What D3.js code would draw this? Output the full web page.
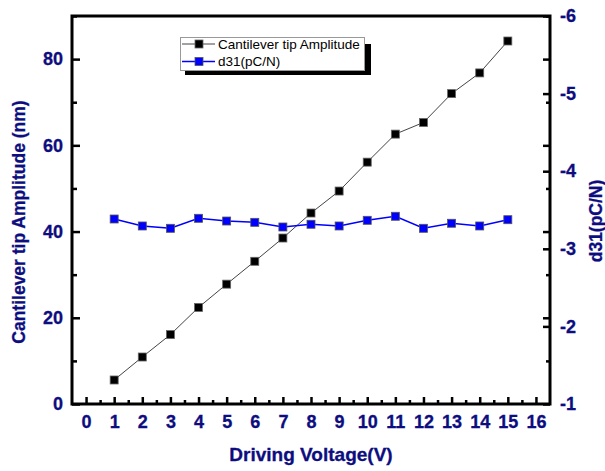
<!DOCTYPE html>
<html><head><meta charset="utf-8">
<script src="https://cdn.jsdelivr.net/npm/d3@7"></script>
<style>
body{margin:0;background:#fff;}
svg{display:block;font-family:"Liberation Sans",Arial,sans-serif;}
</style></head>
<body><svg id="c" width="605" height="471"></svg>
<script>
const voltage = [1,2,3,4,5,6,7,8,9,10,11,12,13,14,15];
const amplitude = [5.57,10.9,16.1,22.4,27.8,33.1,38.5,44.3,49.4,56.1,62.6,65.3,72.0,76.8,84.2];
const d31 = [-3.384,-3.294,-3.264,-3.393,-3.358,-3.341,-3.281,-3.316,-3.294,-3.367,-3.419,-3.264,-3.329,-3.294,-3.375];
const xTicks = [0,1,2,3,4,5,6,7,8,9,10,11,12,13,14,15,16];
const yLeftTicks = [0,20,40,60,80];
const yRightTicks = [-1,-2,-3,-4,-5,-6];
const seriesNames = ["Cantilever tip Amplitude","d31(pC/N)"];

const navy = "#0d0d80";
const svg = d3.select("#c");
const L=72,R=550,T=16,B=404;
const x = d3.scaleLinear().domain([-0.5,16.5]).range([L,R]);
const yL = d3.scaleLinear().domain([0,90]).range([B,T]);
const yR = d3.scaleLinear().domain([-1,-6]).range([B,T]);

function styleAxis(g){
  g.select(".domain").remove();
  g.selectAll(".tick line").attr("stroke","#000").attr("stroke-width",2.5);
  g.selectAll("text").attr("fill",navy).attr("font-size",18).attr("font-weight","bold")
    .attr("stroke",navy).attr("stroke-width",0.3);
}
// bottom axis
svg.append("g").attr("transform",`translate(0,${B})`)
  .call(d3.axisBottom(x).tickValues(xTicks).tickSize(-7).tickPadding(11).tickFormat(d3.format("d")))
  .call(styleAxis);
svg.append("g").attr("transform",`translate(0,${B})`)
  .call(d3.axisBottom(x).tickValues(xTicks.slice(0,-1).map(d=>d+0.5)).tickSize(-4).tickFormat(""))
  .call(styleAxis);
// left axis
svg.append("g").attr("transform",`translate(${L},0)`)
  .call(d3.axisLeft(yL).tickValues(yLeftTicks).tickSize(-8).tickPadding(9))
  .call(styleAxis);
svg.append("g").attr("transform",`translate(${L},0)`)
  .call(d3.axisLeft(yL).tickValues(yLeftTicks.map(d=>d+10)).tickSize(-5).tickFormat(""))
  .call(styleAxis);
// mirrored left ticks on right
svg.append("g").attr("transform",`translate(${R},0)`)
  .call(d3.axisRight(yL).tickValues(yLeftTicks.slice(1)).tickSize(-7).tickFormat(""))
  .call(styleAxis);
svg.append("g").attr("transform",`translate(${R},0)`)
  .call(d3.axisRight(yL).tickValues(yLeftTicks.map(d=>d+10)).tickSize(-4).tickFormat(""))
  .call(styleAxis);
// right axis
svg.append("g").attr("transform",`translate(${R},0)`)
  .call(d3.axisRight(yR).tickValues(yRightTicks).tickSize(-7).tickPadding(10).tickFormat(d3.format("d")))
  .call(styleAxis);
svg.selectAll("text").filter(function(){return this.textContent.indexOf("−")>=0;})
  .text(function(){return this.textContent.replace("−","-");});

// frame
svg.append("rect").attr("x",L).attr("y",T).attr("width",R-L).attr("height",B-T)
  .attr("fill","none").attr("stroke","#000").attr("stroke-width",3);

// series
const lineA = d3.line().x((d,i)=>x(voltage[i])).y(d=>yL(d));
svg.append("path").datum(amplitude).attr("d",lineA).attr("fill","none").attr("stroke","#444").attr("stroke-width",1);
const lineB = d3.line().x((d,i)=>x(voltage[i])).y(d=>yR(d));
svg.append("path").datum(d31).attr("d",lineB).attr("fill","none").attr("stroke","#0000ff").attr("stroke-width",1.5);
const s=8;
svg.append("g").selectAll("rect").data(amplitude).join("rect")
  .attr("x",(d,i)=>x(voltage[i])-s/2).attr("y",d=>yL(d)-s/2).attr("width",s).attr("height",s)
  .attr("fill","#000").attr("stroke","#666").attr("stroke-width",0.8);
svg.append("g").selectAll("rect").data(d31).join("rect")
  .attr("x",(d,i)=>x(voltage[i])-s/2).attr("y",d=>yR(d)-s/2).attr("width",s).attr("height",s)
  .attr("fill","#0000ff").attr("stroke","#555").attr("stroke-width",0.8);

// titles
function title(sel){ return sel.attr("fill",navy).attr("font-weight","bold").attr("stroke",navy).attr("stroke-width",0.3); }
title(svg.append("text").attr("x",311).attr("y",461).attr("text-anchor","middle").attr("font-size",19).text("Driving Voltage(V)"));
title(svg.append("text").attr("transform","translate(25,222) rotate(-90)").attr("text-anchor","middle").attr("font-size",17.5).text("Cantilever tip Amplitude (nm)"));
title(svg.append("text").attr("transform","translate(602,221) rotate(-90)").attr("text-anchor","middle").attr("font-size",17.5).text("d31(pC/N)"));

// legend
const lg = svg.append("g");
lg.append("rect").attr("x",185).attr("y",44).attr("width",186).attr("height",31).attr("fill","#000");
lg.append("rect").attr("x",180.5).attr("y",37.5).attr("width",184).attr("height",33).attr("fill","#fff").attr("stroke","#999").attr("stroke-width",1);
const lc = [{c:"#000",lc:"#444",st:"#666"},{c:"#0000ff",lc:"#0000ff",st:"#555"}];
[44,61.5].forEach((yy,i)=>{
  lg.append("line").attr("x1",182).attr("x2",215).attr("y1",yy).attr("y2",yy).attr("stroke",lc[i].lc).attr("stroke-width",i?1.5:1);
  lg.append("rect").attr("x",199-4).attr("y",yy-4).attr("width",8).attr("height",8).attr("fill",lc[i].c).attr("stroke",lc[i].st).attr("stroke-width",0.8);
  lg.append("text").attr("x",218).attr("y",yy+4.5).attr("font-size",13.5).attr("fill","#000").text(seriesNames[i]);
});
</script></body></html>
